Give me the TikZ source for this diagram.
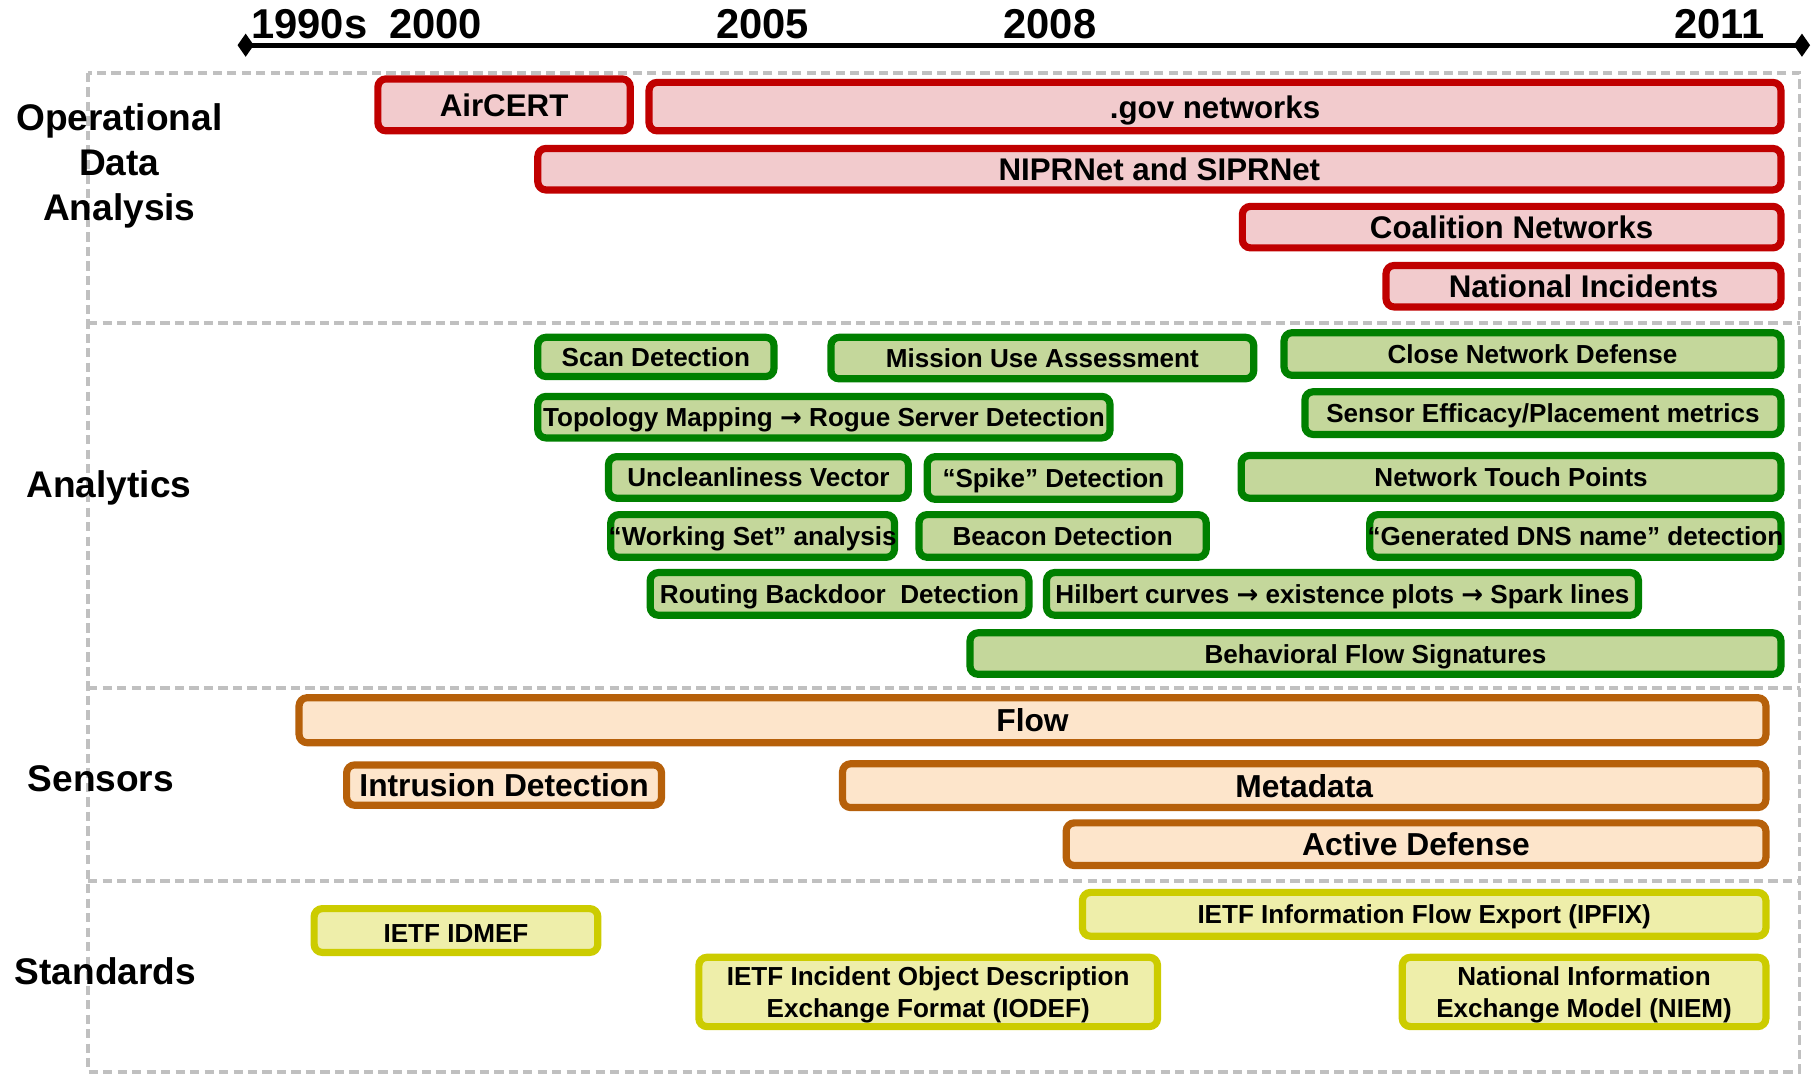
\documentclass[tikz,border=0pt]{standalone}
\usepackage{fontspec}
\setmainfont{Liberation Sans}
\newfontfamily\arrowfont{DejaVu Sans}
\usetikzlibrary{arrows.meta}

\definecolor{redline}{RGB}{192,0,0}
\definecolor{redfill}{RGB}{242,203,205}
\definecolor{grnline}{RGB}{0,128,0}
\definecolor{grnfill}{RGB}{196,215,155}
\definecolor{orgline}{RGB}{182,96,10}
\definecolor{orgfill}{RGB}{253,229,203}
\definecolor{ylwline}{RGB}{204,204,0}
\definecolor{ylwfill}{RGB}{238,238,170}
\definecolor{framegray}{RGB}{192,192,192}

\newcommand\pfont[2]{\fontsize{#1}{#2}\selectfont\bfseries}
\newcommand\goesto{{\arrowfont\bfseries →}}

% timeline bar: name, colour prefix, x1, y1, x2, y2 (outer edges), text
\newcommand\tbar[7]{%
  \node[#2box, minimum width={#5pt-#3pt-6.2pt}, minimum height={#6pt-#4pt-6.2pt},
        label={[#2txt]center:{#7}}] (#1) at ({(#3+#5)/2},{(#4+#6)/2}) {};}

\tikzset{
  bar/.style={rounded corners=7pt, line width=6.2pt, inner sep=0pt},
  rbox/.style={bar, draw=redline, fill=redfill},
  gbox/.style={bar, draw=grnline, fill=grnfill},
  obox/.style={bar, draw=orgline, fill=orgfill},
  ybox/.style={bar, draw=ylwline, fill=ylwfill},
  rtxt/.style={inner sep=0pt, text height=19.7pt, text depth=0pt, font=\pfont{27}{32}},
  gtxt/.style={inner sep=0pt, text height=16.4pt, text depth=0pt, font=\pfont{22.5}{27}},
  otxt/.style={inner sep=0pt, text height=20pt, text depth=0pt, font=\pfont{27.4}{32}},
  ytxt/.style={font=\pfont{22.5}{28}, inner sep=0pt, align=center, yshift=-2.5pt},
  year/.style={font=\pfont{36}{40}, inner sep=0pt, anchor=base},
  lane/.style={font=\pfont{32}{39}, inner sep=0pt, align=center},
  frame/.style={draw=framegray, line width=3.2pt, dash pattern=on 8pt off 4.5pt},
}

\begin{document}
\begin{tikzpicture}[x=1pt,y=-1pt]
\useasboundingbox (0,0) rectangle (1568,928);

% time axis
\coordinate (axL) at (205,39);
\coordinate (axR) at (1562,39);
\draw[line width=4pt, {Diamond[width=20pt,length=14pt]}-{Diamond[width=20pt,length=14pt]}] (axL) -- (axR);
\node[year] (y1990) at (267,33) {1990s};
\node[year] (y2000) at (376,33) {2000};
\node[year] (y2005) at (658,33) {2005};
\node[year] (y2008) at (906,33) {2008};
\node[year] (y2011) at (1484,33) {2011};

% swim lanes
\draw[frame] (76,63) rectangle (1553,925);
\draw[frame] (76,279) -- (1553,279);
\draw[frame] (76,594) -- (1553,594);
\draw[frame] (76,760) -- (1553,760);

\node[lane] (lop) at (103,143) {Operational\\Data\\Analysis};
\node[lane] (lan) at (94,421) {Analytics};
\node[lane] (lse) at (87,672) {Sensors};
\node[lane] (lst) at (91,838) {Standards};

% operational data analysis
\tbar{aircert}{r}{323}{65}{547}{116}{AirCERT}
\tbar{gov}{r}{557}{68}{1540}{116}{.gov networks}
\tbar{nipr}{r}{461}{125}{1540}{167}{NIPRNet and SIPRNet}
\tbar{coal}{r}{1069}{175}{1540}{217}{Coalition Networks}
\tbar{natinc}{r}{1193}{226}{1540}{268}{National Incidents}

% analytics
\tbar{scan}{g}{461}{288}{671}{328}{Scan Detection}
\tbar{mission}{g}{714}{288}{1085}{330}{Mission Use Assessment}
\tbar{close}{g}{1105}{284}{1540}{327}{Close Network Defense}
\tbar{topo}{g}{461}{339}{961}{381}{Topology Mapping \goesto\ Rogue Server Detection}
\tbar{sensor}{g}{1123}{335}{1540}{378}{Sensor Efficacy/Placement metrics}
\tbar{unclean}{g}{522}{391}{787}{433}{Uncleanliness Vector}
\tbar{spike}{g}{797}{391}{1021}{434}{“Spike” Detection}
\tbar{touch}{g}{1068}{390}{1540}{433}{Network Touch Points}
\tbar{working}{g}{524}{441}{775}{484}{“Working Set” analysis}
\tbar{beacon}{g}{790}{441}{1044}{484}{Beacon Detection}
\tbar{dns}{g}{1179}{441}{1540}{484}{“Generated DNS name” detection}
\tbar{routing}{g}{558}{491}{891}{534}{Routing Backdoor\ \ Detection}
\tbar{hilbert}{g}{900}{491}{1417}{534}{Hilbert curves \goesto\ existence plots \goesto\ Spark lines}
\tbar{behav}{g}{834}{543}{1540}{585}{Behavioral Flow Signatures}

% sensors
\tbar{flow}{o}{255}{599}{1527}{644}{Flow}
\tbar{ids}{o}{296}{657}{574}{698}{Intrusion Detection}
\tbar{meta}{o}{724}{656}{1527}{700}{Metadata}
\tbar{active}{o}{917}{707}{1527}{750}{Active Defense}

% standards
\tbar{idmef}{y}{268}{781}{519}{825}{IETF IDMEF}
\tbar{ipfix}{y}{931}{767}{1527}{811}{IETF Information Flow Export (IPFIX)}
\tbar{iodef}{y}{600}{823}{1002}{889}{IETF Incident Object Description\\Exchange Format (IODEF)}
\tbar{niem}{y}{1207}{823}{1527}{889}{National Information\\Exchange Model (NIEM)}
\end{tikzpicture}
\end{document}
